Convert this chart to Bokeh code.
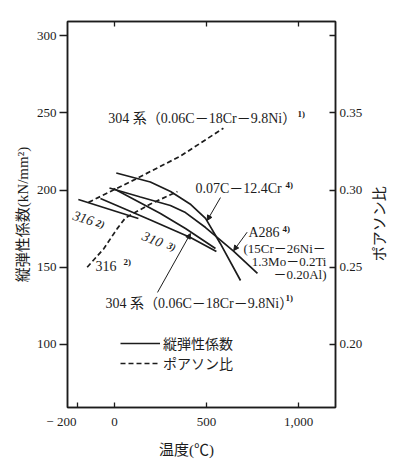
import math
from bokeh.plotting import figure
from bokeh.models import (Range1d, LinearAxis, FixedTicker, Label, Arrow, NormalHead,
                          Legend, LegendItem, PrintfTickFormatter)
from bokeh.embed import file_html
from bokeh.resources import INLINE

# ---- data: elastic modulus (kN/mm^2) vs temperature (deg C) ----
t_0712 = [10, 195, 305, 415, 495, 575, 685]
E_0712 = [211.0, 205.2, 199.0, 190.6, 181.6, 165.4, 141.4]
t_a286 = [-27, 141, 304, 386, 495, 647, 777]
E_a286 = [201.3, 195.5, 190.0, 185.4, 175.7, 160.5, 146.0]
t_304 = [-5, 250, 386, 549]
E_304 = [201.0, 184.8, 175.1, 162.1]
t_310 = [-76, 196, 413, 554]
E_310 = [194.5, 180.6, 169.3, 160.2]
t_316 = [-196, 130]
E_316 = [193.9, 181.6]
# ---- data: Poisson's ratio vs temperature ----
t_304p = [-141, 114, 359, 592]
nu_304 = [0.292, 0.307, 0.322, 0.340]
t_316p = [-148, -58, 15, 60, 196, 342]
nu_316 = [0.250, 0.262, 0.275, 0.282, 0.291, 0.299]

x_ticks = [-200, 0, 500, 1000]
x_labels = {-200: "\u2212 200" + "\u00a0" * 10, 0: "0", 500: "500", 1000: "1,000"}
y_ticks = [100, 150, 200, 250, 300]
nu_ticks = [0.20, 0.25, 0.30, 0.35, 0.40]

FONT = "Liberation Serif, Noto Sans CJK JP"
INK = "#1c1c1c"

p = figure(width=399, height=468, output_backend="svg", toolbar_location=None,
           x_range=Range1d(-255, 1201), y_range=Range1d(59.2, 309.1),
           min_border_left=67, min_border_right=64, min_border_top=21, min_border_bottom=61)
p.extra_y_ranges = {"nu": Range1d((59.2 + 100) / 1000, (309.1 + 100) / 1000)}
p.grid.visible = False
p.outline_line_color = INK
p.outline_line_width = 1.5
p.background_fill_color = "white"
p.border_fill_color = "white"

# left axis
ya = p.yaxis[0]
ya.ticker = FixedTicker(ticks=y_ticks)
ya.major_tick_out = 8
ya.major_tick_in = 0
ya.minor_tick_line_color = None
ya.axis_label = "縦弾性係数(kN/mm²)"
ya.axis_label_text_font = FONT
ya.axis_label_text_font_style = "normal"
ya.axis_label_text_font_size = "15px"
ya.axis_label_standoff = 3
ya.major_label_text_font = FONT
ya.major_label_text_font_size = "13px"
ya.major_label_standoff = 3

# bottom axis
xa = p.xaxis[0]
xa.ticker = FixedTicker(ticks=x_ticks)
xa.major_label_overrides = x_labels
xa.major_tick_out = 0
xa.major_tick_in = 5
xa.minor_tick_line_color = None
xa.axis_label = "温度(℃)" + "\u00a0" * 8
xa.axis_label_text_font = FONT
xa.axis_label_text_font_style = "normal"
xa.axis_label_text_font_size = "15px"
xa.axis_label_standoff = 10
xa.major_label_text_font = FONT
xa.major_label_text_font_size = "13px"
xa.major_label_standoff = 6

for ax in (xa, ya):
    ax.axis_line_color = INK
    ax.axis_line_width = 1.5
    ax.major_tick_line_color = INK
    ax.major_tick_line_width = 1.3
    ax.major_label_text_color = INK
    ax.axis_label_text_color = INK

# right axis (Poisson's ratio); title reads bottom-to-top as in the original
ra = LinearAxis(y_range_name="nu", ticker=FixedTicker(ticks=nu_ticks),
                formatter=PrintfTickFormatter(format="%.2f"),
                major_label_overrides={0.4: ""},
                axis_label="\u3000" * 9 + "\u00a0" * 3 + "ポアソン比",
                axis_label_orientation=math.pi / 2, axis_label_align="start",
                axis_label_text_font=FONT, axis_label_text_font_style="normal",
                axis_label_text_font_size="15px", axis_label_standoff=15,
                axis_label_text_color=INK,
                major_tick_in=6, major_tick_out=0, minor_tick_line_color=None,
                major_label_text_font=FONT, major_label_text_font_size="13px",
                major_label_standoff=4, major_label_text_color=INK,
                axis_line_color=INK, axis_line_width=1.5, major_tick_line_color=INK,
                major_tick_line_width=1.3)
p.add_layout(ra, "right")

# top axis (ticks only)
ta = LinearAxis(ticker=FixedTicker(ticks=[0, 500, 1000]),
                major_label_overrides={0: "", 500: "", 1000: ""},
                major_label_text_font_size="1px", major_label_standoff=0,
                major_tick_in=5, major_tick_out=0, minor_tick_line_color=None,
                axis_line_color=INK, axis_line_width=1.5, major_tick_line_color=INK,
                major_tick_line_width=1.3)
p.add_layout(ta, "above")

LW = 1.7
r_0712 = p.line(t_0712, E_0712, line_color=INK, line_width=LW)
p.line(t_a286, E_a286, line_color=INK, line_width=LW)
p.line(t_304, E_304, line_color=INK, line_width=LW)
p.line(t_310, E_310, line_color=INK, line_width=LW)
p.line(t_316, E_316, line_color=INK, line_width=LW)
r_304p = p.line(t_304p, nu_304, y_range_name="nu", line_color=INK, line_width=LW, line_dash="5 3")
p.line(t_316p, nu_316, y_range_name="nu", line_color=INK, line_width=LW, line_dash="5 3")

legend = Legend(items=[LegendItem(label="縦弾性係数", renderers=[r_0712]),
                       LegendItem(label="ポアソン比", renderers=[r_304p])],
                location=(53, 34), orientation="vertical",
                glyph_width=40, glyph_height=16, label_height=16, spacing=0,
                label_standoff=3, padding=0, margin=0,
                label_text_font=FONT, label_text_font_size="14px", label_text_color=INK,
                border_line_color=None, background_fill_alpha=0)
p.add_layout(legend, "center")


def lab(x, y, text, size="14px", align="left", style="normal", angle=0.0):
    p.add_layout(Label(x=x, y=y, text=text, text_font=FONT, text_font_size=size,
                       text_align=align, text_baseline="middle", text_font_style=style,
                       text_color=INK, angle=angle))


lab(-33, 246.3, "304 系（0.06C－18Cr－9.8Ni）")
lab(995, 248.9, "1)", size="9px", style="bold")
lab(440, 201.0, "0.07C－12.4Cr")
lab(930, 203.0, "4)", size="9px", style="bold")
lab(728, 172.5, "A286")
lab(913, 175.0, "4)", size="9px", style="bold")
lab(701, 162.1, "(15Cr－26Ni－", size="13px")
lab(1152, 153.7, "1.3Mo－0.2Ti", size="13px", align="right")
lab(1152, 145.3, "－0.20Al)", size="13px", align="right")
lab(-223, 184.0, "316", style="italic", angle=-0.3)
lab(-98, 179.0, "2)", size="10px", style="bold italic", angle=-0.3)
lab(155, 171.0, "310", style="italic", angle=-0.4)
lab(290, 164.5, "3)", size="10px", style="bold italic", angle=-0.4)
lab(-103, 150.5, "316")
lab(49, 153.7, "2)", size="9px", style="bold")
lab(-49, 126.5, "304 系（0.06C－18Cr－9.8Ni）")
lab(929, 130.4, "1)", size="9px", style="bold")

for xs, ys, xe, ye in [(234, 133.7, 413, 171.8), (576, 195.1, 504, 180.3), (721, 172.7, 648, 160.8)]:
    p.add_layout(Arrow(x_start=xs, y_start=ys, x_end=xe, y_end=ye, line_color=INK, line_width=1.0,
                       end=NormalHead(size=5, fill_color=INK, line_color=INK)))

open("out.html", "w").write(file_html(p, INLINE))
